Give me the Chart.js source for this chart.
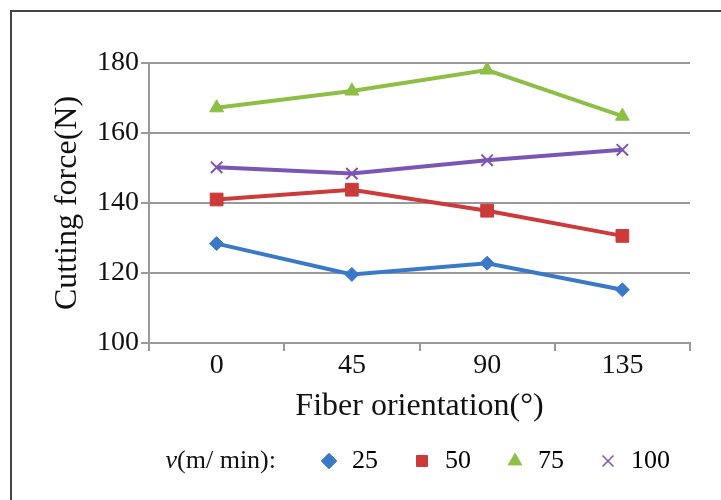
<!DOCTYPE html>
<html>
<head>
<meta charset="utf-8">
<script src="https://cdn.jsdelivr.net/npm/chart.js@4"></script>
<style>
  html, body { margin: 0; padding: 0; background: #fff; }
  #wrap { position: relative; width: 721px; height: 500px; }
</style>
</head>
<body>
<div id="wrap"><canvas id="chart" width="721" height="500"></canvas></div>
<script>
const categories = ['0', '45', '90', '135'];
const seriesNames = ['25', '50', '75', '100'];
const v25 = [128.4, 119.6, 122.8, 115.2];
const v50 = [141, 143.8, 137.8, 130.6];
const v75 = [167.2, 172, 178, 164.8];
const v100 = [150.2, 148.4, 152.2, 155.2];
const yTicks = [100, 120, 140, 160, 180];

const FONT = "'Liberation Serif', 'Times New Roman', serif";
const LEGEND_DX = 14;
const LEGEND_DY = -12;

// outer frame, legend nudge and the "v(m/ min):" prefix
const framePlugin = {
  id: 'frame',
  afterLayout(chart) {
    const lg = chart.legend;
    lg.left += LEGEND_DX; lg.right += LEGEND_DX;
    lg.top += LEGEND_DY; lg.bottom += LEGEND_DY;
    (lg.legendHitBoxes || []).forEach(b => { b.left += LEGEND_DX; b.top += LEGEND_DY; });
  },
  beforeDraw(chart) {
    const ctx = chart.ctx;
    ctx.save();
    ctx.strokeStyle = '#444';
    ctx.lineWidth = 2;
    ctx.beginPath();
    ctx.moveTo(11, 500);
    ctx.lineTo(11, 11);
    ctx.lineTo(721, 11);
    ctx.stroke();
    ctx.restore();
  },
  afterDraw(chart) {
    const boxes = chart.legend.legendHitBoxes;
    if (!boxes || !boxes.length) return;
    const ctx = chart.ctx;
    ctx.save();
    ctx.fillStyle = '#111';
    ctx.font = '26px ' + FONT;
    ctx.textBaseline = 'middle';
    ctx.textAlign = 'right';
    const b = boxes[0];
    const y = b.top + b.height / 2 + 12;
    const xEnd = b.left - 43;
    const rest = '(m/ min):';
    ctx.fillText(rest, xEnd, y);
    const w = ctx.measureText(rest).width;
    ctx.font = 'italic 26px ' + FONT;
    ctx.fillText('v', xEnd - w, y);
    ctx.restore();
  }
};

function ds(label, data, color, style, radius) {
  return {
    label,
    data,
    borderColor: color,
    backgroundColor: color,
    borderWidth: 4,
    pointStyle: style,
    pointRadius: radius,
    pointBorderWidth: style === 'crossRot' ? 2 : 1,
    pointBackgroundColor: color,
    pointBorderColor: color,
    tension: 0
  };
}

new Chart(document.getElementById('chart'), {
  type: 'line',
  data: {
    labels: categories,
    datasets: [
      ds(seriesNames[0], v25, '#3a78c8', 'rectRot', 7),
      ds(seriesNames[1], v50, '#cc3a3a', 'rect', 9),
      ds(seriesNames[2], v75, '#8dbf45', 'triangle', 8),
      ds(seriesNames[3], v100, '#7b55b5', 'crossRot', 8)
    ]
  },
  options: {
    responsive: false,
    animation: false,
    layout: { padding: { left: 48, right: 31, top: 63, bottom: 4 } },
    plugins: {
      tooltip: { enabled: false },
      legend: {
        position: 'bottom',
        align: 'end',
        labels: {
          usePointStyle: true,
          boxWidth: 20,
          boxHeight: 11,
          padding: 34,
          color: '#111',
          font: { family: FONT, size: 26 },
          generateLabels(chart) {
            return chart.data.datasets.map((d, i) => ({
              text: d.label,
              fillStyle: d.backgroundColor,
              strokeStyle: d.borderColor,
              lineWidth: d.pointStyle === 'crossRot' ? 1.5 : 1,
              pointStyle: d.pointStyle,
              datasetIndex: i,
              hidden: false
            }));
          }
        }
      }
    },
    scales: {
      x: {
        offset: true,
        grid: { display: true, drawOnChartArea: false, offset: true, color: '#999', lineWidth: 2, tickLength: 8 },
        border: { color: '#999', width: 2 },
        ticks: { color: '#111', font: { family: FONT, size: 28 }, padding: -2 },
        title: { display: true, text: 'Fiber orientation(°)', color: '#111', font: { family: FONT, size: 32 }, padding: { top: 7, bottom: 0 } }
      },
      y: {
        min: 100,
        max: 180,
        afterBuildTicks(axis) { axis.ticks = yTicks.map(v => ({ value: v })); },
        grid: { color: '#999', lineWidth: 2, tickLength: 8 },
        border: { color: '#999', width: 2 },
        ticks: { color: '#111', font: { family: FONT, size: 28 }, padding: 2 },
        title: { display: true, text: 'Cutting force(N)', color: '#111', font: { family: FONT, size: 32 }, padding: { top: 0, bottom: 6 } },
        afterFit(axis) { axis.width = 149 - 48; }
      }
    }
  },
  plugins: [framePlugin]
});
</script>
</body>
</html>
